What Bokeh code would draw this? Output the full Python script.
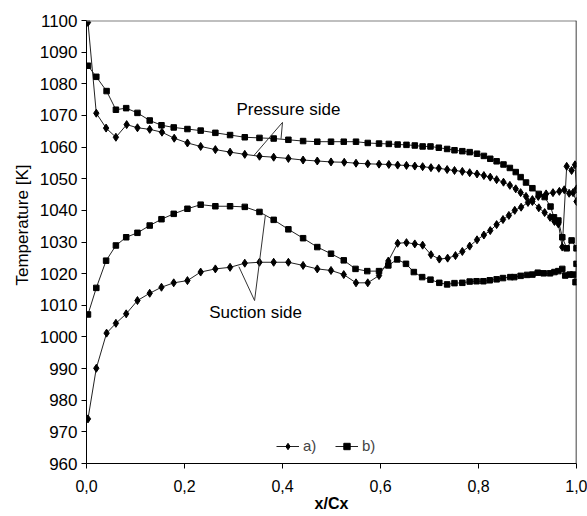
from bokeh.plotting import figure
from bokeh.models import (FixedTicker, CustomJSTickFormatter, Span, Label, Legend, LegendItem, Title)
from bokeh.embed import file_html
from bokeh.resources import INLINE

# a) pressure side
a_ps_x = [0.003, 0.020, 0.040, 0.060, 0.082, 0.104, 0.129, 0.154, 0.179, 0.206, 0.233, 0.263, 0.293,
          0.323, 0.353, 0.382, 0.412, 0.442, 0.471, 0.499, 0.526, 0.550, 0.574, 0.597, 0.617, 0.635,
          0.653, 0.670, 0.686, 0.703, 0.719, 0.736, 0.751, 0.767, 0.782, 0.797, 0.811, 0.824, 0.837,
          0.851, 0.864, 0.876, 0.886, 0.897, 0.910, 0.923, 0.935, 0.946, 0.955, 0.963, 0.971, 0.980,
          0.990, 0.997, 1.000]
a_ps_T = [1099.4, 1070.7, 1066.0, 1063.1, 1067.1, 1066.1, 1065.6, 1064.7, 1062.8, 1061.3, 1060.2, 1059.2, 1058.4,
          1057.7, 1057.1, 1056.8, 1056.4, 1055.9, 1055.6, 1055.3, 1055.2, 1054.9, 1054.7, 1054.6, 1054.5, 1054.3,
          1054.2, 1054.0, 1053.8, 1053.5, 1053.3, 1052.9, 1052.6, 1052.3, 1051.9, 1051.5, 1051.0, 1050.5, 1049.7,
          1048.9, 1047.9, 1046.8, 1045.6, 1044.4, 1042.8, 1040.8, 1039.3, 1037.8, 1036.5, 1035.7, 1028.4, 1053.9,
          1052.6, 1054.4, 1046.8]

# a) suction side
a_ss_x = [0.003, 0.020, 0.041, 0.060, 0.081, 0.104, 0.129, 0.153, 0.178, 0.206, 0.233, 0.263, 0.293,
          0.323, 0.353, 0.382, 0.412, 0.442, 0.471, 0.499, 0.525, 0.550, 0.574, 0.597, 0.616, 0.635,
          0.653, 0.670, 0.686, 0.703, 0.720, 0.737, 0.753, 0.767, 0.782, 0.797, 0.811, 0.824, 0.837,
          0.850, 0.862, 0.874, 0.887, 0.901, 0.910, 0.922, 0.938, 0.952, 0.965, 0.975, 0.985, 0.993, 1.000]
a_ss_T = [974.1, 990.1, 1001.2, 1004.3, 1007.3, 1011.5, 1013.8, 1015.7, 1017.1, 1017.8, 1020.5, 1021.5, 1022.0,
          1023.3, 1023.6, 1023.6, 1023.6, 1022.6, 1021.5, 1021.0, 1019.7, 1017.1, 1017.1, 1019.4, 1024.0, 1029.6,
          1029.8, 1029.4, 1029.0, 1026.0, 1024.6, 1024.9, 1025.7, 1027.0, 1028.7, 1030.7, 1032.2, 1033.6, 1035.5,
          1037.1, 1038.4, 1040.0, 1041.0, 1042.5, 1043.4, 1044.4, 1045.2, 1045.6, 1046.0, 1046.5, 1045.4, 1045.6, 1042.8]

# b) pressure side
b_ps_x = [0.003, 0.020, 0.041, 0.060, 0.081, 0.104, 0.129, 0.153, 0.178, 0.206, 0.233, 0.263, 0.293,
          0.323, 0.353, 0.382, 0.412, 0.442, 0.471, 0.499, 0.525, 0.550, 0.574, 0.597, 0.617, 0.635,
          0.653, 0.670, 0.686, 0.702, 0.719, 0.736, 0.751, 0.767, 0.782, 0.797, 0.811, 0.824, 0.837,
          0.851, 0.864, 0.876, 0.886, 0.897, 0.910, 0.923, 0.935, 0.947, 0.954, 0.963, 0.971, 0.980,
          0.990, 1.000]
b_ps_T = [1085.7, 1082.2, 1077.7, 1071.8, 1072.3, 1070.8, 1068.4, 1066.9, 1066.2, 1065.7, 1065.2, 1064.5, 1063.8,
          1063.1, 1062.9, 1062.7, 1062.3, 1061.9, 1061.7, 1061.7, 1061.7, 1061.7, 1061.3, 1061.1, 1061.0, 1060.8,
          1060.7, 1060.5, 1060.2, 1060.2, 1059.8, 1059.4, 1059.0, 1058.7, 1058.4, 1057.9, 1057.2, 1056.3, 1055.5,
          1054.5, 1053.4, 1052.1, 1050.5, 1048.8, 1047.0, 1045.2, 1044.2, 1041.2, 1037.8, 1036.8, 1031.5, 1028.0,
          1030.5, 1028.0]

# b) suction side
b_ss_x = [0.003, 0.020, 0.040, 0.060, 0.081, 0.104, 0.129, 0.153, 0.178, 0.206, 0.233, 0.263, 0.293,
          0.323, 0.353, 0.382, 0.412, 0.442, 0.471, 0.499, 0.525, 0.549, 0.573, 0.597, 0.616, 0.634,
          0.652, 0.668, 0.685, 0.702, 0.720, 0.736, 0.751, 0.767, 0.782, 0.796, 0.810, 0.823, 0.837,
          0.850, 0.865, 0.873, 0.886, 0.899, 0.910, 0.921, 0.933, 0.946, 0.955, 0.963, 0.971, 0.977,
          0.986, 0.993, 0.998, 1.000]
b_ss_T = [1007.1, 1015.5, 1024.1, 1028.9, 1031.5, 1032.9, 1035.2, 1037.2, 1038.9, 1040.5, 1041.8, 1041.3, 1041.3,
          1041.1, 1039.5, 1037.0, 1034.0, 1031.2, 1028.4, 1026.3, 1024.2, 1021.5, 1020.8, 1020.8, 1022.6, 1024.5,
          1023.1, 1020.5, 1018.9, 1018.1, 1017.1, 1016.6, 1017.0, 1017.1, 1017.5, 1017.6, 1017.6, 1017.9, 1018.2,
          1018.6, 1018.9, 1018.9, 1019.3, 1019.6, 1019.7, 1020.3, 1020.1, 1020.1, 1020.5, 1020.8, 1021.5, 1019.4,
          1019.7, 1019.7, 1017.3, 1023.1]

x_ticks = [0.0, 0.2, 0.4, 0.6, 0.8, 1.0]
y_ticks = list(range(960, 1101, 10))

FONT = "Liberation Sans"

p = figure(width=587, height=516, x_range=(0, 1), y_range=(960, 1100),
           output_backend="svg", toolbar_location=None,
           min_border_left=86, min_border_right=11, min_border_top=20, min_border_bottom=53)
p.xgrid.visible = False
p.ygrid.visible = False
p.outline_line_color = None
p.background_fill_color = "white"

for ax in (p.xaxis[0], p.yaxis[0]):
    ax.axis_line_color = "black"
    ax.major_tick_line_color = "black"
    ax.minor_tick_line_color = None
    ax.major_tick_out = 5
    ax.major_tick_in = 0
    ax.major_label_text_font = FONT
    ax.major_label_text_color = "black"
    ax.axis_label_text_font = FONT
    ax.axis_label_text_color = "black"

p.xaxis.major_label_text_font_size = "16px"
p.yaxis.major_label_text_font_size = "17px"
p.xaxis.ticker = FixedTicker(ticks=x_ticks)
p.yaxis.ticker = FixedTicker(ticks=y_ticks)
p.xaxis.formatter = CustomJSTickFormatter(code="return tick.toFixed(1).replace('.', ',');")
p.xaxis.major_label_standoff = 11
p.yaxis.major_label_standoff = 4

p.xaxis.axis_label = "x/Cx"
p.xaxis.axis_label_text_font_style = "bold"
p.xaxis.axis_label_text_font_size = "16px"
p.xaxis.axis_label_standoff = 0

p.add_layout(Title(text="Temperature [K]", align="left", offset=178, standoff=9,
                   text_font=FONT, text_font_size="17px", text_font_style="normal",
                   text_color="black"), "left")

p.add_layout(Span(location=1100, dimension="width", line_color="#808080", line_width=2))
p.add_layout(Span(location=1.0, dimension="height", line_color="black", line_width=1.5))

LC = "#222222"
la1 = p.line(a_ps_x, a_ps_T, line_color=LC, line_width=1)
la2 = p.line(a_ss_x, a_ss_T, line_color=LC, line_width=1)
lb1 = p.line(b_ps_x, b_ps_T, line_color=LC, line_width=1)
lb2 = p.line(b_ss_x, b_ss_T, line_color=LC, line_width=1)
ma1 = p.scatter(a_ps_x, a_ps_T, marker="diamond", size=8, color="black")
ma2 = p.scatter(a_ss_x, a_ss_T, marker="diamond", size=8, color="black")
mb1 = p.scatter(b_ps_x, b_ps_T, marker="square", size=5.5, color="black")
mb2 = p.scatter(b_ss_x, b_ss_T, marker="square", size=5.5, color="black")

# annotation leader lines (data space)
ps_apex = (0.400, 1067.8)
ps_ends = [(0.397, 1062.6), (0.3414, 1057.3)]
ss_apex = (0.343, 1011.5)
ss_ends = [(0.311, 1022.2), (0.365, 1038.4)]
for apex, ends in ((ps_apex, ps_ends), (ss_apex, ss_ends)):
    for e in ends:
        p.segment(x0=[apex[0]], y0=[apex[1]], x1=[e[0]], y1=[e[1]], line_color="#333333", line_width=1)

p.add_layout(Label(x=0.412, y=1071.9, text="Pressure side", text_font=FONT, text_font_size="17px",
                   text_align="center", text_baseline="middle", text_color="black"))
p.add_layout(Label(x=0.345, y=1007.7, text="Suction side", text_font=FONT, text_font_size="17px",
                   text_align="center", text_baseline="middle", text_color="black"))

legend = Legend(items=[LegendItem(label="a)", renderers=[la1, ma1]),
                       LegendItem(label="b)", renderers=[lb1, mb1])],
                location=(190, 9), orientation="horizontal",
                border_line_color=None, background_fill_alpha=0,
                padding=0, margin=0, spacing=12, glyph_width=23, glyph_height=16,
                label_standoff=4, label_text_font=FONT, label_text_font_size="15px")
p.add_layout(legend)

open("out.html", "w").write(file_html(p, INLINE))
